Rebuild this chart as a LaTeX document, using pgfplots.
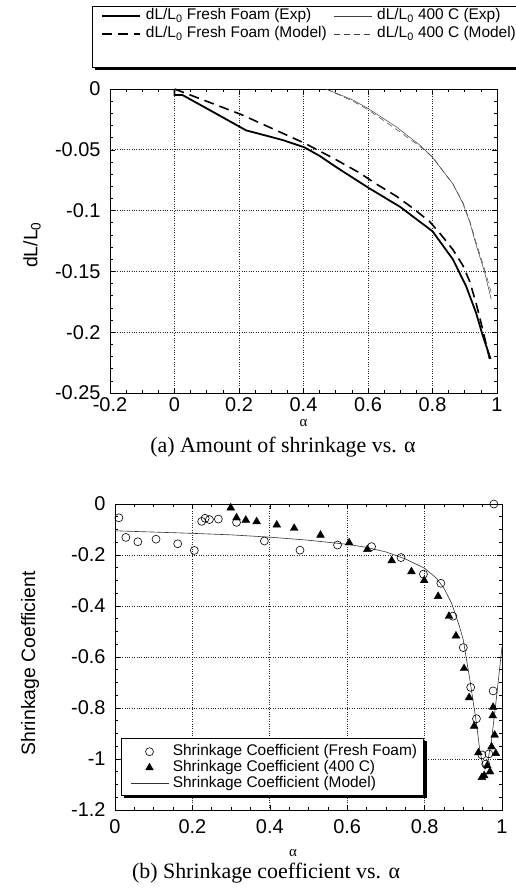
\documentclass[border=0pt]{standalone}
\usepackage{fontspec}
\setmainfont{Liberation Sans}
\newfontfamily\seriffont{Liberation Serif}
\usepackage{pgfplots}
\pgfplotsset{compat=1.18}

\pgfplotsset{
  myaxis/.style={
    scale only axis, anchor=north west,
    grid=major, major grid style={black!85, dotted, line width=0.7bp},
    axis line style={line width=0.8bp},
    tick style={black, line width=0.6bp},
    major tick length=5bp, minor tick length=3bp,
    ticklabel style={font=\fontsize{20}{20}\selectfont},
    label style={font=\fontsize{19.5}{19.5}\selectfont},
    clip=false,
    legend cell align=left,
    legend image code/.code={\draw[mark repeat=2,mark phase=2] plot coordinates {(0bp,0bp) (19bp,0bp) (38bp,0bp)};},
  }
}

\begin{document}
\begin{tikzpicture}[x=1bp,y=1bp]
% frame of the upper legend (it runs past the right edge, as in the original)
\fill[black] (95,-9) rectangle (527,-70);
\filldraw[fill=white, draw=black, line width=0.8bp] (92,-6) rectangle (524,-67);

\begin{axis}[myaxis,
  at={(110bp,-89bp)}, width=387bp, height=304bp,
  xmin=-0.2, xmax=1, ymin=-0.25, ymax=0,
  xtick={-0.2,0,0.2,0.4,0.6,0.8,1}, xticklabels={-0.2,0,0.2,0.4,0.6,0.8,1},
  ytick={-0.25,-0.2,-0.15,-0.1,-0.05,0}, yticklabels={-0.25,-0.2,-0.15,-0.1,-0.05,0},
  minor x tick num=3, minor y tick num=4,
  xticklabel style={yshift=-1.5bp}, yticklabel style={xshift=-6bp},
  xlabel={\seriffont\fontsize{15}{15}\selectfont α},
  xlabel style={at={(axis description cs:0.5,-0.1)}, anchor=center},
  ylabel={dL/L\textsubscript{0}},
  ylabel style={at={(axis description cs:-0.2016,0.487)}, anchor=center},
  legend columns=2,
  legend style={at={(-0.0233,1.2648)}, anchor=north west, draw=none, fill=none,
    inner sep=0bp, font=\fontsize{15.5}{15.5}\selectfont, row sep=3bp,
    nodes={inner sep=0bp, text height=11bp, text depth=4bp},
    /tikz/every odd column/.append style={column sep=5bp},
    /tikz/every even column/.append style={column sep=7bp}},
]
\addplot[black, line width=1.8bp] coordinates {
(0,0) (0,-0.005) (0.025,-0.005) (0.1,-0.016) (0.222,-0.034) (0.336,-0.042)
(0.403,-0.048) (0.45,-0.055) (0.5,-0.064) (0.6,-0.081) (0.7,-0.097)
(0.8,-0.117) (0.863,-0.140) (0.904,-0.162) (0.935,-0.184) (0.956,-0.203) (0.98,-0.222)};
\addlegendentry{dL/L\textsubscript{0} Fresh Foam (Exp)}
\addplot[black!75, line width=0.5bp] coordinates {
(0.47,0) (0.553,-0.009) (0.6,-0.016) (0.687,-0.031) (0.76,-0.046) (0.798,-0.0555)
(0.863,-0.078) (0.894,-0.094) (0.915,-0.109) (0.935,-0.128) (0.961,-0.150) (0.982,-0.173)};
\addlegendentry{dL/L\textsubscript{0} 400 C (Exp)}
\addplot[black, line width=1.6bp, dash pattern=on 10bp off 6bp] coordinates {
(0,0) (0.02,-0.002) (0.207,-0.021) (0.403,-0.0445) (0.5,-0.058) (0.574,-0.069)
(0.625,-0.078) (0.687,-0.088) (0.739,-0.098) (0.791,-0.109) (0.827,-0.120)
(0.863,-0.132) (0.894,-0.145) (0.915,-0.158) (0.935,-0.176) (0.955,-0.197) (0.977,-0.222)};
\addlegendentry{dL/L\textsubscript{0} Fresh Foam (Model)}
\addplot[black!75, line width=0.5bp, dash pattern=on 6bp off 4bp] coordinates {
(0.47,0) (0.553,-0.010) (0.6,-0.017) (0.687,-0.033) (0.76,-0.047) (0.8,-0.056)
(0.863,-0.078) (0.894,-0.093) (0.915,-0.108) (0.935,-0.126) (0.961,-0.148) (0.985,-0.170)};
\addlegendentry{dL/L\textsubscript{0} 400 C (Model)}
\end{axis}

\node[font=\seriffont\fontsize{22}{22}\selectfont] at (283,-447) {(a) Amount of shrinkage vs. α};

\begin{axis}[myaxis,
  at={(115bp,-504bp)}, width=387bp, height=306bp,
  xmin=0, xmax=1, ymin=-1.2, ymax=0,
  xtick={0,0.2,0.4,0.6,0.8,1}, xticklabels={0,0.2,0.4,0.6,0.8,1},
  ytick={-1.2,-1,-0.8,-0.6,-0.4,-0.2,0}, yticklabels={-1.2,-1,-0.8,-0.6,-0.4,-0.2,0},
  minor x tick num=3, minor y tick num=3,
  xticklabel style={yshift=-6bp}, yticklabel style={xshift=-6bp},
  xlabel={\seriffont\fontsize{15}{15}\selectfont α},
  xlabel style={at={(axis description cs:0.46,-0.14)}, anchor=center},
  ylabel={Shrinkage Coefficient},
  ylabel style={at={(axis description cs:-0.2196,0.48)}, anchor=center},
  legend style={at={(0.0155,0.2353)}, anchor=north west, draw=none, fill=none,
    inner xsep=9bp, inner ysep=6bp, font=\fontsize{15.5}{15.5}\selectfont, row sep=1bp,
    nodes={inner sep=0bp, text height=11bp, text depth=4bp},
    /tikz/every odd column/.append style={column sep=4bp}},
]
\addplot[only marks, mark=o, mark size=4bp, mark options={line width=0.6bp, black}] coordinates {
(0.010,-0.054) (0.028,-0.131) (0.059,-0.148) (0.106,-0.138) (0.162,-0.156) (0.205,-0.182)
(0.224,-0.068) (0.233,-0.056) (0.244,-0.061) (0.267,-0.059) (0.314,-0.072) (0.386,-0.145)
(0.478,-0.181) (0.575,-0.161) (0.663,-0.167) (0.739,-0.210) (0.797,-0.275) (0.842,-0.311)
(0.873,-0.440) (0.900,-0.563) (0.919,-0.719) (0.934,-0.842) (0.948,-0.984) (0.958,-1.02)
(0.966,-0.98) (0.977,-0.733) (0.979,0.0)};
\addlegendentry{Shrinkage Coefficient (Fresh Foam)}
\addplot[only marks, mark=triangle*, mark size=4.5bp, mark options={black, fill=black}] coordinates {
(0.299,-0.015) (0.314,-0.054) (0.338,-0.063) (0.366,-0.069) (0.418,-0.082) (0.463,-0.095)
(0.531,-0.122) (0.605,-0.152) (0.652,-0.178) (0.715,-0.222) (0.766,-0.265) (0.799,-0.300)
(0.835,-0.362) (0.863,-0.440) (0.881,-0.517) (0.902,-0.645) (0.915,-0.759) (0.928,-0.871)
(0.939,-0.975) (0.948,-1.072) (0.954,-1.065) (0.962,-1.026) (0.969,-1.050) (0.973,-0.952)
(0.976,-0.830) (0.977,-0.797) (0.981,-0.906) (0.984,-0.978)};
\addlegendentry{Shrinkage Coefficient (400 C)}
\addplot[black!80, line width=0.6bp] coordinates {
(0,-0.105) (0.1,-0.110) (0.2,-0.115) (0.3,-0.121) (0.4,-0.130) (0.5,-0.142) (0.6,-0.158)
(0.65,-0.170) (0.7,-0.188) (0.75,-0.215) (0.8,-0.252) (0.83,-0.290) (0.85,-0.33)
(0.87,-0.39) (0.89,-0.48) (0.90,-0.533) (0.917,-0.69) (0.934,-0.86) (0.943,-0.97)
(0.95,-1.02) (0.956,-1.04) (0.962,-1.02) (0.973,-0.925) (0.986,-0.755) (1.0,-0.56)};
\addlegendentry{Shrinkage Coefficient (Model)}
% frame of the lower legend, drawn under the legend entries
\fill[black] (rel axis cs:0.0233,0.2255) rectangle (rel axis cs:0.8056,0.0392);
\filldraw[fill=white, draw=black, line width=0.8bp] (rel axis cs:0.0155,0.2353) rectangle (rel axis cs:0.798,0.049);
\end{axis}

\node[font=\seriffont\fontsize{22}{22}\selectfont] at (266,-873) {(b) Shrinkage coefficient vs. α};

\pgfresetboundingbox
\path[use as bounding box] (0,0) rectangle (516,-890);
\end{tikzpicture}
\end{document}
